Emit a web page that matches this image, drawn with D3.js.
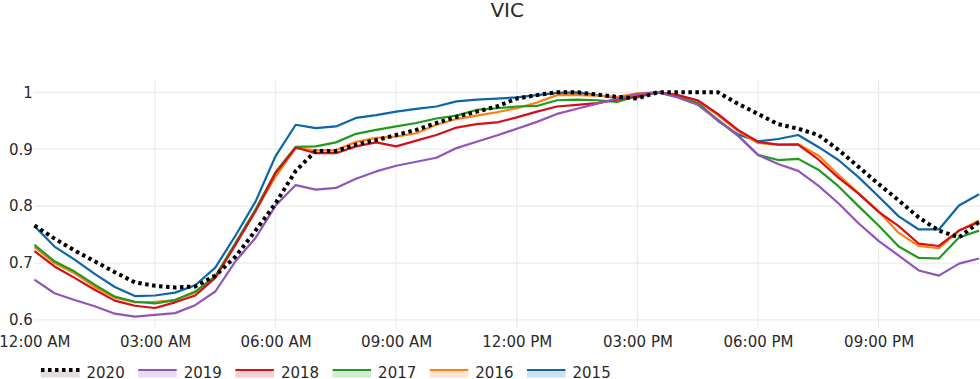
<!DOCTYPE html>
<html>
<head>
<meta charset="utf-8">
<script src="https://cdn.jsdelivr.net/npm/d3@7"></script>
<style>
  html, body { margin: 0; padding: 0; background: #fff; }
  svg { display: block; font-family: "DejaVu Sans", sans-serif; }
</style>
</head>
<body>
<svg id="chart" width="980" height="379"></svg>
<script>
const title = "VIC";
const times = ["00:00","00:30","01:00","01:30","02:00","02:30","03:00","03:30","04:00","04:30","05:00","05:30",
  "06:00","06:30","07:00","07:30","08:00","08:30","09:00","09:30","10:00","10:30","11:00","11:30",
  "12:00","12:30","13:00","13:30","14:00","14:30","15:00","15:30","16:00","16:30","17:00","17:30",
  "18:00","18:30","19:00","19:30","20:00","20:30","21:00","21:30","22:00","22:30","23:00","23:30"];
const years = ["2020","2019","2018","2017","2016","2015"];
const v2020 = [0.766,0.743,0.722,0.703,0.684,0.666,0.660,0.657,0.659,0.678,0.711,0.757,
  0.805,0.862,0.897,0.897,0.908,0.916,0.925,0.934,0.946,0.957,0.966,0.975,
  0.989,0.995,1.000,1.000,0.996,0.992,0.989,1.000,1.000,1.000,1.000,0.980,
  0.962,0.944,0.936,0.925,0.899,0.869,0.839,0.810,0.780,0.757,0.745,0.772];
const v2019 = [0.671,0.647,0.635,0.624,0.611,0.606,0.609,0.612,0.626,0.650,0.703,0.744,
  0.801,0.837,0.829,0.832,0.848,0.861,0.871,0.878,0.885,0.902,0.913,0.924,
  0.936,0.948,0.962,0.971,0.980,0.989,0.997,1.000,0.991,0.978,0.951,0.924,
  0.890,0.874,0.862,0.836,0.805,0.770,0.739,0.713,0.687,0.678,0.699,0.708];
const v2018 = [0.721,0.694,0.674,0.653,0.634,0.625,0.621,0.631,0.643,0.674,0.732,0.791,
  0.858,0.903,0.893,0.893,0.905,0.912,0.905,0.915,0.925,0.938,0.944,0.947,
  0.956,0.966,0.975,0.978,0.981,0.987,0.993,1.000,0.995,0.986,0.962,0.934,
  0.913,0.908,0.908,0.882,0.850,0.822,0.790,0.765,0.734,0.730,0.757,0.772];
const v2017 = [0.732,0.703,0.685,0.662,0.641,0.632,0.629,0.635,0.650,0.677,0.735,0.794,
  0.860,0.904,0.905,0.912,0.927,0.934,0.940,0.946,0.954,0.959,0.969,0.972,
  0.975,0.976,0.986,0.987,0.986,0.983,0.994,1.000,0.992,0.980,0.952,0.924,
  0.890,0.881,0.883,0.864,0.835,0.800,0.766,0.729,0.709,0.708,0.745,0.757];
const v2016 = [0.728,0.700,0.682,0.658,0.639,0.631,0.632,0.635,0.648,0.675,0.733,0.792,
  0.852,0.902,0.898,0.898,0.913,0.920,0.922,0.928,0.943,0.953,0.959,0.965,
  0.972,0.982,0.995,0.995,0.994,0.992,0.998,1.000,0.995,0.985,0.960,0.932,
  0.911,0.908,0.909,0.889,0.855,0.823,0.791,0.753,0.730,0.726,0.757,0.775];
const v2015 = [0.765,0.729,0.706,0.681,0.658,0.642,0.643,0.648,0.661,0.692,0.748,0.808,
  0.888,0.943,0.937,0.940,0.955,0.960,0.966,0.971,0.975,0.984,0.987,0.989,
  0.991,0.995,0.999,1.000,0.995,0.990,0.991,1.000,0.995,0.982,0.950,0.926,
  0.914,0.918,0.925,0.904,0.881,0.851,0.817,0.782,0.759,0.759,0.801,0.821];
const yTicks = [0.6, 0.7, 0.8, 0.9, 1];
const colors = ["#000000","#9055bb","#d40f1a","#1e9a1e","#ff7f0e","#0d66a8"];

(function () {
const seriesValues = [v2020, v2019, v2018, v2017, v2016, v2015];
const parse = d3.timeParse("%H:%M");
const dates = times.map(parse);

const svg = d3.select("#chart");
const pLeft = 34.4, pRight = 979.1, pTop = 80, pBottom = 328;

const x = d3.scaleTime().domain([dates[0], dates[dates.length - 1]]).range([pLeft, pRight]);
const y = d3.scaleLinear().domain([0.5859, 1.0216]).range([pBottom, pTop]);

// gridlines
const xTickVals = d3.timeHour.every(3).range(dates[0], d3.timeMinute.offset(dates[dates.length-1], 1));
svg.append("g").selectAll("line").data(xTickVals.slice(1)).join("line")
  .attr("x1", d => x(d)).attr("x2", d => x(d)).attr("y1", pTop).attr("y2", pBottom)
  .attr("stroke", "#ebebeb").attr("stroke-width", 1.2);
svg.append("g").selectAll("line").data(yTicks).join("line")
  .attr("x1", pLeft).attr("x2", 980).attr("y1", d => y(d)).attr("y2", d => y(d))
  .attr("stroke", "#ebebeb").attr("stroke-width", 1.2);

// axes
const xAxis = d3.axisBottom(x).tickValues(xTickVals).tickFormat(d3.timeFormat("%I:%M %p")).tickSize(0).tickPadding(0);
const gx = svg.append("g").attr("transform", `translate(0,${pBottom})`).call(xAxis);
gx.select(".domain").remove();
gx.selectAll("text").attr("font-size", 15).attr("fill", "#2a2a2a").attr("font-family", "DejaVu Sans")
  .attr("dy", null).attr("y", 18.5);

const yAxis = d3.axisLeft(y).tickValues(yTicks).tickFormat(d => d === 1 ? "1" : d3.format(".1f")(d)).tickSize(0).tickPadding(1.5);
const gy = svg.append("g").attr("transform", `translate(${pLeft},0)`).call(yAxis);
gy.select(".domain").remove();
gy.selectAll("text").attr("font-size", 15).attr("fill", "#2a2a2a").attr("font-family", "DejaVu Sans");

// lines (2015 bottom, 2020 top)
const line = d3.line().x((d, i) => x(dates[i])).y(d => y(d));
const plot = svg.append("g");
for (let k = seriesValues.length - 1; k >= 0; k--) {
  const p = plot.append("path").datum(seriesValues[k])
    .attr("d", line).attr("fill", "none").attr("stroke", colors[k])
    .attr("stroke-linejoin", "round");
  if (years[k] === "2020") {
    p.attr("stroke-width", 4).attr("stroke-dasharray", "3.5,3.5");
  } else {
    p.attr("stroke-width", 2.2);
  }
}

// title
svg.append("text").attr("x", (pLeft + 980) / 2).attr("y", 17).attr("text-anchor", "middle")
  .attr("font-size", 20).attr("fill", "#2a2a2a").text(title);

// legend
const lg = svg.append("g");
years.forEach((yr, k) => {
  const x0 = 41 + k * 97.2;
  lg.append("rect").attr("x", x0).attr("y", 370.5).attr("width", 38.5).attr("height", 7)
    .attr("fill", k === 0 ? "#d9cfcf" : colors[k]).attr("fill-opacity", k === 0 ? 0.7 : 0.2);
  const l = lg.append("line").attr("x1", x0).attr("x2", x0 + 38.5).attr("y1", 370).attr("y2", 370)
    .attr("stroke", colors[k]);
  if (k === 0) l.attr("stroke-width", 4).attr("stroke-dasharray", "3.5,3.5");
  else l.attr("stroke-width", 2.2);
  lg.append("text").attr("x", x0 + 45.5).attr("y", 378).attr("font-size", 15)
    .attr("fill", "#2a2a2a").text(yr);
});
})();
</script>
</body>
</html>
